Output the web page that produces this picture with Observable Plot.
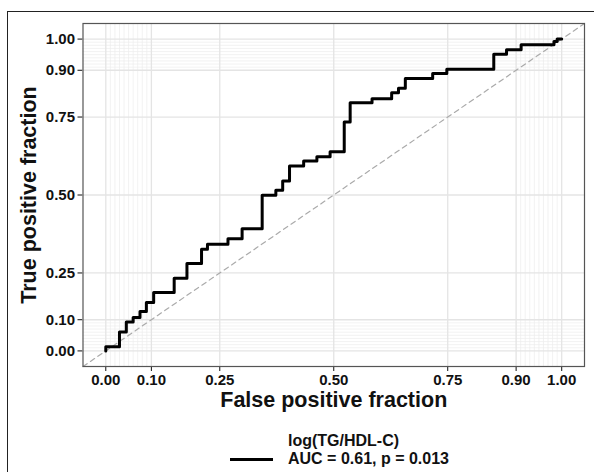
<!DOCTYPE html>
<html>
<head>
<meta charset="utf-8">
<script src="https://cdn.jsdelivr.net/npm/d3@7"></script>
<script src="https://cdn.jsdelivr.net/npm/@observablehq/plot@0.6"></script>
<style>
  html, body { margin: 0; padding: 0; background: #fff; }
  #wrap { position: relative; width: 594px; height: 472px; overflow: hidden; font-family: "Liberation Sans", Arial, sans-serif; font-weight: bold; color: #111; }
  #frame { position: absolute; left: 7px; top: 11px; width: 620px; height: 500px; border-left: 1.5px solid #222; border-top: 1.5px solid #222; pointer-events: none; }
  #chart { position: absolute; left: 0; top: 0; }
  #legend { position: absolute; left: 0; top: 420px; width: 594px; height: 52px; }
  .key { position: absolute; left: 230px; top: 37.5px; width: 43px; height: 3px; background: #000; }
  .lt { position: absolute; left: 288px; font-size: 16px; line-height: 18px; white-space: nowrap; }
</style>
</head>
<body>
<div id="wrap">
  <div id="chart"></div>
  <div id="legend">
    <div class="lt" id="legTitle" style="top:12px"></div>
    <div class="key"></div>
    <div class="lt" id="legLabel" style="top:30px"></div>
  </div>
  <div id="frame"></div>
</div>
<script>
// ROC curve vertices (false positive fraction, true positive fraction), step-after
const fpf = [0, 0, 0.030, 0.045, 0.060, 0.075, 0.089, 0.105, 0.150, 0.178, 0.210, 0.223,
  0.268, 0.299, 0.343, 0.373, 0.388, 0.403, 0.434, 0.463, 0.492, 0.523, 0.536,
  0.584, 0.627, 0.642, 0.657, 0.717, 0.748, 0.851, 0.879, 0.911, 0.983, 0.990, 1.000];
const tpf = [0, 0.013, 0.061, 0.093, 0.107, 0.126, 0.155, 0.187, 0.233, 0.280, 0.326, 0.342,
  0.360, 0.392, 0.499, 0.515, 0.545, 0.593, 0.609, 0.623, 0.639, 0.734, 0.796,
  0.809, 0.828, 0.842, 0.874, 0.890, 0.903, 0.951, 0.966, 0.982, 0.992, 1.000, 1.000];

const majorBreaks = [0, 0.1, 0.25, 0.5, 0.75, 0.9, 1];
const minorBreaks = [0.01, 0.02, 0.03, 0.04, 0.05, 0.06, 0.07, 0.08, 0.09,
  0.91, 0.92, 0.93, 0.94, 0.95, 0.96, 0.97, 0.98, 0.99];
const axisDomain = [-0.05, 1.05];

const xTitle = "False positive fraction";
const yTitle = "True positive fraction";
const legendTitle = "log(TG/HDL-C)";
const legendLabel = "AUC = 0.61, p = 0.013";

const idx = d3.range(fpf.length);

const chart = Plot.plot({
  width: 594,
  height: 420,
  marginLeft: 82.5,
  marginRight: 10,
  marginTop: 23,
  marginBottom: 54,
  style: { fontFamily: "'Liberation Sans', Arial, sans-serif", fontSize: "15px", fontWeight: "bold", color: "#111", background: "transparent" },
  x: { domain: axisDomain, ticks: majorBreaks, tickFormat: d3.format(".2f"), tickSize: 5, tickPadding: 3, label: null },
  y: { domain: axisDomain, ticks: majorBreaks, tickFormat: d3.format(".2f"), tickSize: 5, tickPadding: 3, label: null },
  marks: [
    Plot.ruleX(minorBreaks, { stroke: "#ececec", strokeWidth: 0.7 }),
    Plot.ruleY(minorBreaks, { stroke: "#ececec", strokeWidth: 0.7 }),
    Plot.ruleX(majorBreaks, { stroke: "#e4e4e4", strokeWidth: 1.3 }),
    Plot.ruleY(majorBreaks, { stroke: "#e4e4e4", strokeWidth: 1.3 }),
    Plot.line(axisDomain, { x: d => d, y: d => d, stroke: "#aaaaaa", strokeWidth: 1.2, strokeDasharray: "5,4" }),
    Plot.line(idx, { x: i => fpf[i], y: i => tpf[i], curve: "step-after", stroke: "#000", strokeWidth: 3 }),
    Plot.frame({ stroke: "#555", strokeWidth: 1.2 }),
    Plot.text([xTitle], { frameAnchor: "bottom", lineAnchor: "middle", textAnchor: "middle", dy: 34, fontSize: 21.5, fontWeight: "bold", fill: "#111" }),
    Plot.text([yTitle], { frameAnchor: "left", lineAnchor: "middle", textAnchor: "middle", dx: -53.5, rotate: -90, fontSize: 21.5, fontWeight: "bold", fill: "#111" })
  ]
});
document.getElementById("chart").appendChild(chart);
document.getElementById("legTitle").textContent = legendTitle;
document.getElementById("legLabel").textContent = legendLabel;
</script>
</body>
</html>
